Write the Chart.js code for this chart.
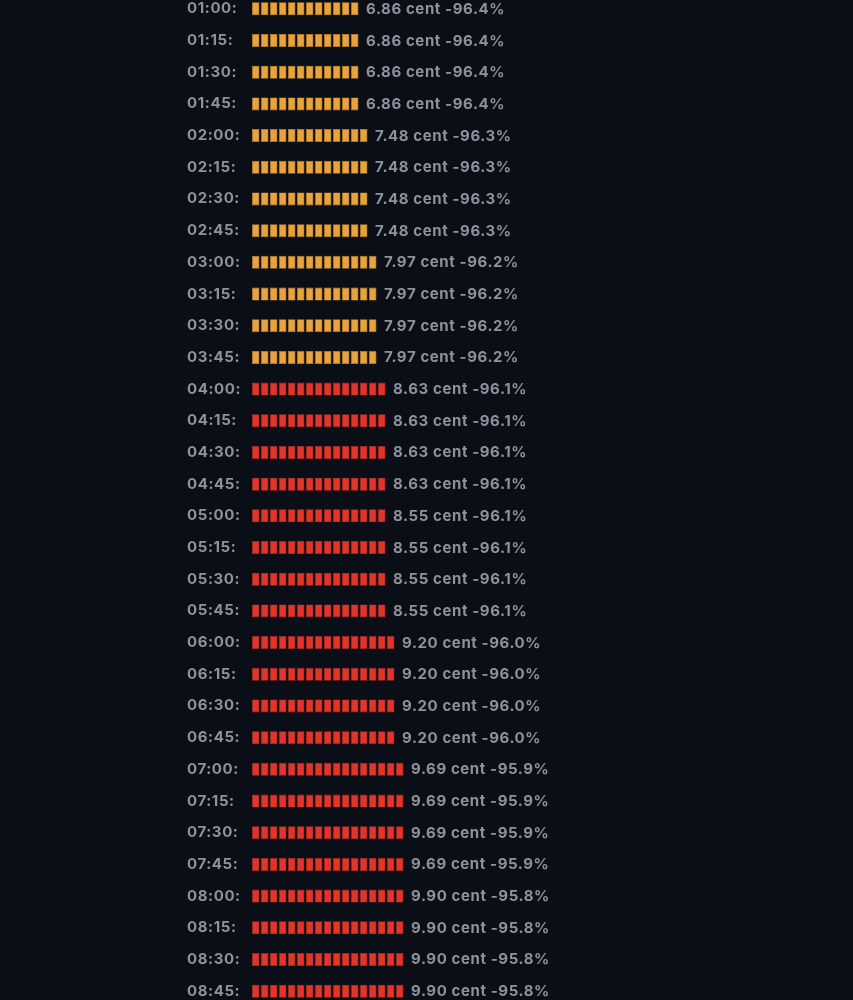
<!DOCTYPE html>
<html>
<head>
<meta charset="utf-8">
<script src="https://cdn.jsdelivr.net/npm/chart.js@4/dist/chart.umd.min.js"></script>
<style>
  html, body { margin: 0; padding: 0; background: #0a0e17; overflow: hidden; }
  #wrap { position: absolute; left: 0; top: -16px; width: 853px; height: 1032px; }
</style>
</head>
<body>
<div id="wrap"><canvas id="c"></canvas></div>
<script>
const times = ["01:00","01:15","01:30","01:45","02:00","02:15","02:30","02:45",
  "03:00","03:15","03:30","03:45","04:00","04:15","04:30","04:45",
  "05:00","05:15","05:30","05:45","06:00","06:15","06:30","06:45",
  "07:00","07:15","07:30","07:45","08:00","08:15","08:30","08:45"];
const prices = [6.86,6.86,6.86,6.86,7.48,7.48,7.48,7.48,
  7.97,7.97,7.97,7.97,8.63,8.63,8.63,8.63,
  8.55,8.55,8.55,8.55,9.20,9.20,9.20,9.20,
  9.69,9.69,9.69,9.69,9.90,9.90,9.90,9.90];
const changes = ["-96.4%","-96.4%","-96.4%","-96.4%","-96.3%","-96.3%","-96.3%","-96.3%",
  "-96.2%","-96.2%","-96.2%","-96.2%","-96.1%","-96.1%","-96.1%","-96.1%",
  "-96.1%","-96.1%","-96.1%","-96.1%","-96.0%","-96.0%","-96.0%","-96.0%",
  "-95.9%","-95.9%","-95.9%","-95.9%","-95.8%","-95.8%","-95.8%","-95.8%"];
const blocks = [12,12,12,12,13,13,13,13,14,14,14,14,15,15,15,15,
  15,15,15,15,16,16,16,16,17,17,17,17,17,17,17,17];

const ORANGE = "#e9a33a", ORANGE_B = "#c98a2c";
const RED = "#e1352a", RED_B = "#b82a21";
const TEXT = "#8d939e";
const FONT = "Inter";
const SPACING = "0.6px";

const maxBlocks = Math.max(...blocks);
const datasets = [];
for (let i = 0; i < maxBlocks; i++) {
  datasets.push({
    data: blocks.map(b => b > i ? [i, i + 0.83] : null),
    backgroundColor: prices.map(p => p < 8 ? ORANGE : RED),
    borderColor: prices.map(p => p < 8 ? ORANGE_B : RED_B),
    borderWidth: 0.6,
    borderSkipped: false,
    grouped: false,
    barThickness: 13,
    inflateAmount: 0
  });
}

const spacing = {
  id: "spacing",
  beforeDraw(chart) { chart.ctx.letterSpacing = SPACING; }
};

const valueLabels = {
  id: "valueLabels",
  afterDatasetsDraw(chart) {
    const ctx = chart.ctx;
    const xs = chart.scales.x, ys = chart.scales.y;
    ctx.save();
    ctx.letterSpacing = SPACING;
    ctx.font = "bold 15px " + FONT;
    ctx.fillStyle = TEXT;
    ctx.textAlign = "left";
    ctx.textBaseline = "middle";
    times.forEach((t, i) => {
      const x = xs.getPixelForValue(blocks[i]) + 6;
      const y = ys.getPixelForValue(i) + 0.5;
      ctx.fillText(prices[i].toFixed(2) + " cent " + changes[i], x, y);
    });
    ctx.restore();
  }
};

new Chart(document.getElementById("c"), {
  type: "bar",
  data: { labels: times.map(t => t + ":"), datasets },
  options: {
    indexAxis: "y",
    responsive: true,
    maintainAspectRatio: false,
    animation: false,
    events: [],
    layout: { padding: { left: 187, right: 61, top: 0, bottom: 0 } },
    plugins: { legend: { display: false }, tooltip: { enabled: false } },
    scales: {
      x: { display: false, min: 0, max: 60 },
      y: {
        grid: { display: false },
        border: { display: false },
        ticks: {
          color: TEXT,
          font: { family: FONT, size: 15, weight: "bold" },
          crossAlign: "far",
          padding: 0
        },
        afterFit(s) { s.width = 65; }
      }
    }
  },
  plugins: [spacing, valueLabels]
});
</script>
</body>
</html>
